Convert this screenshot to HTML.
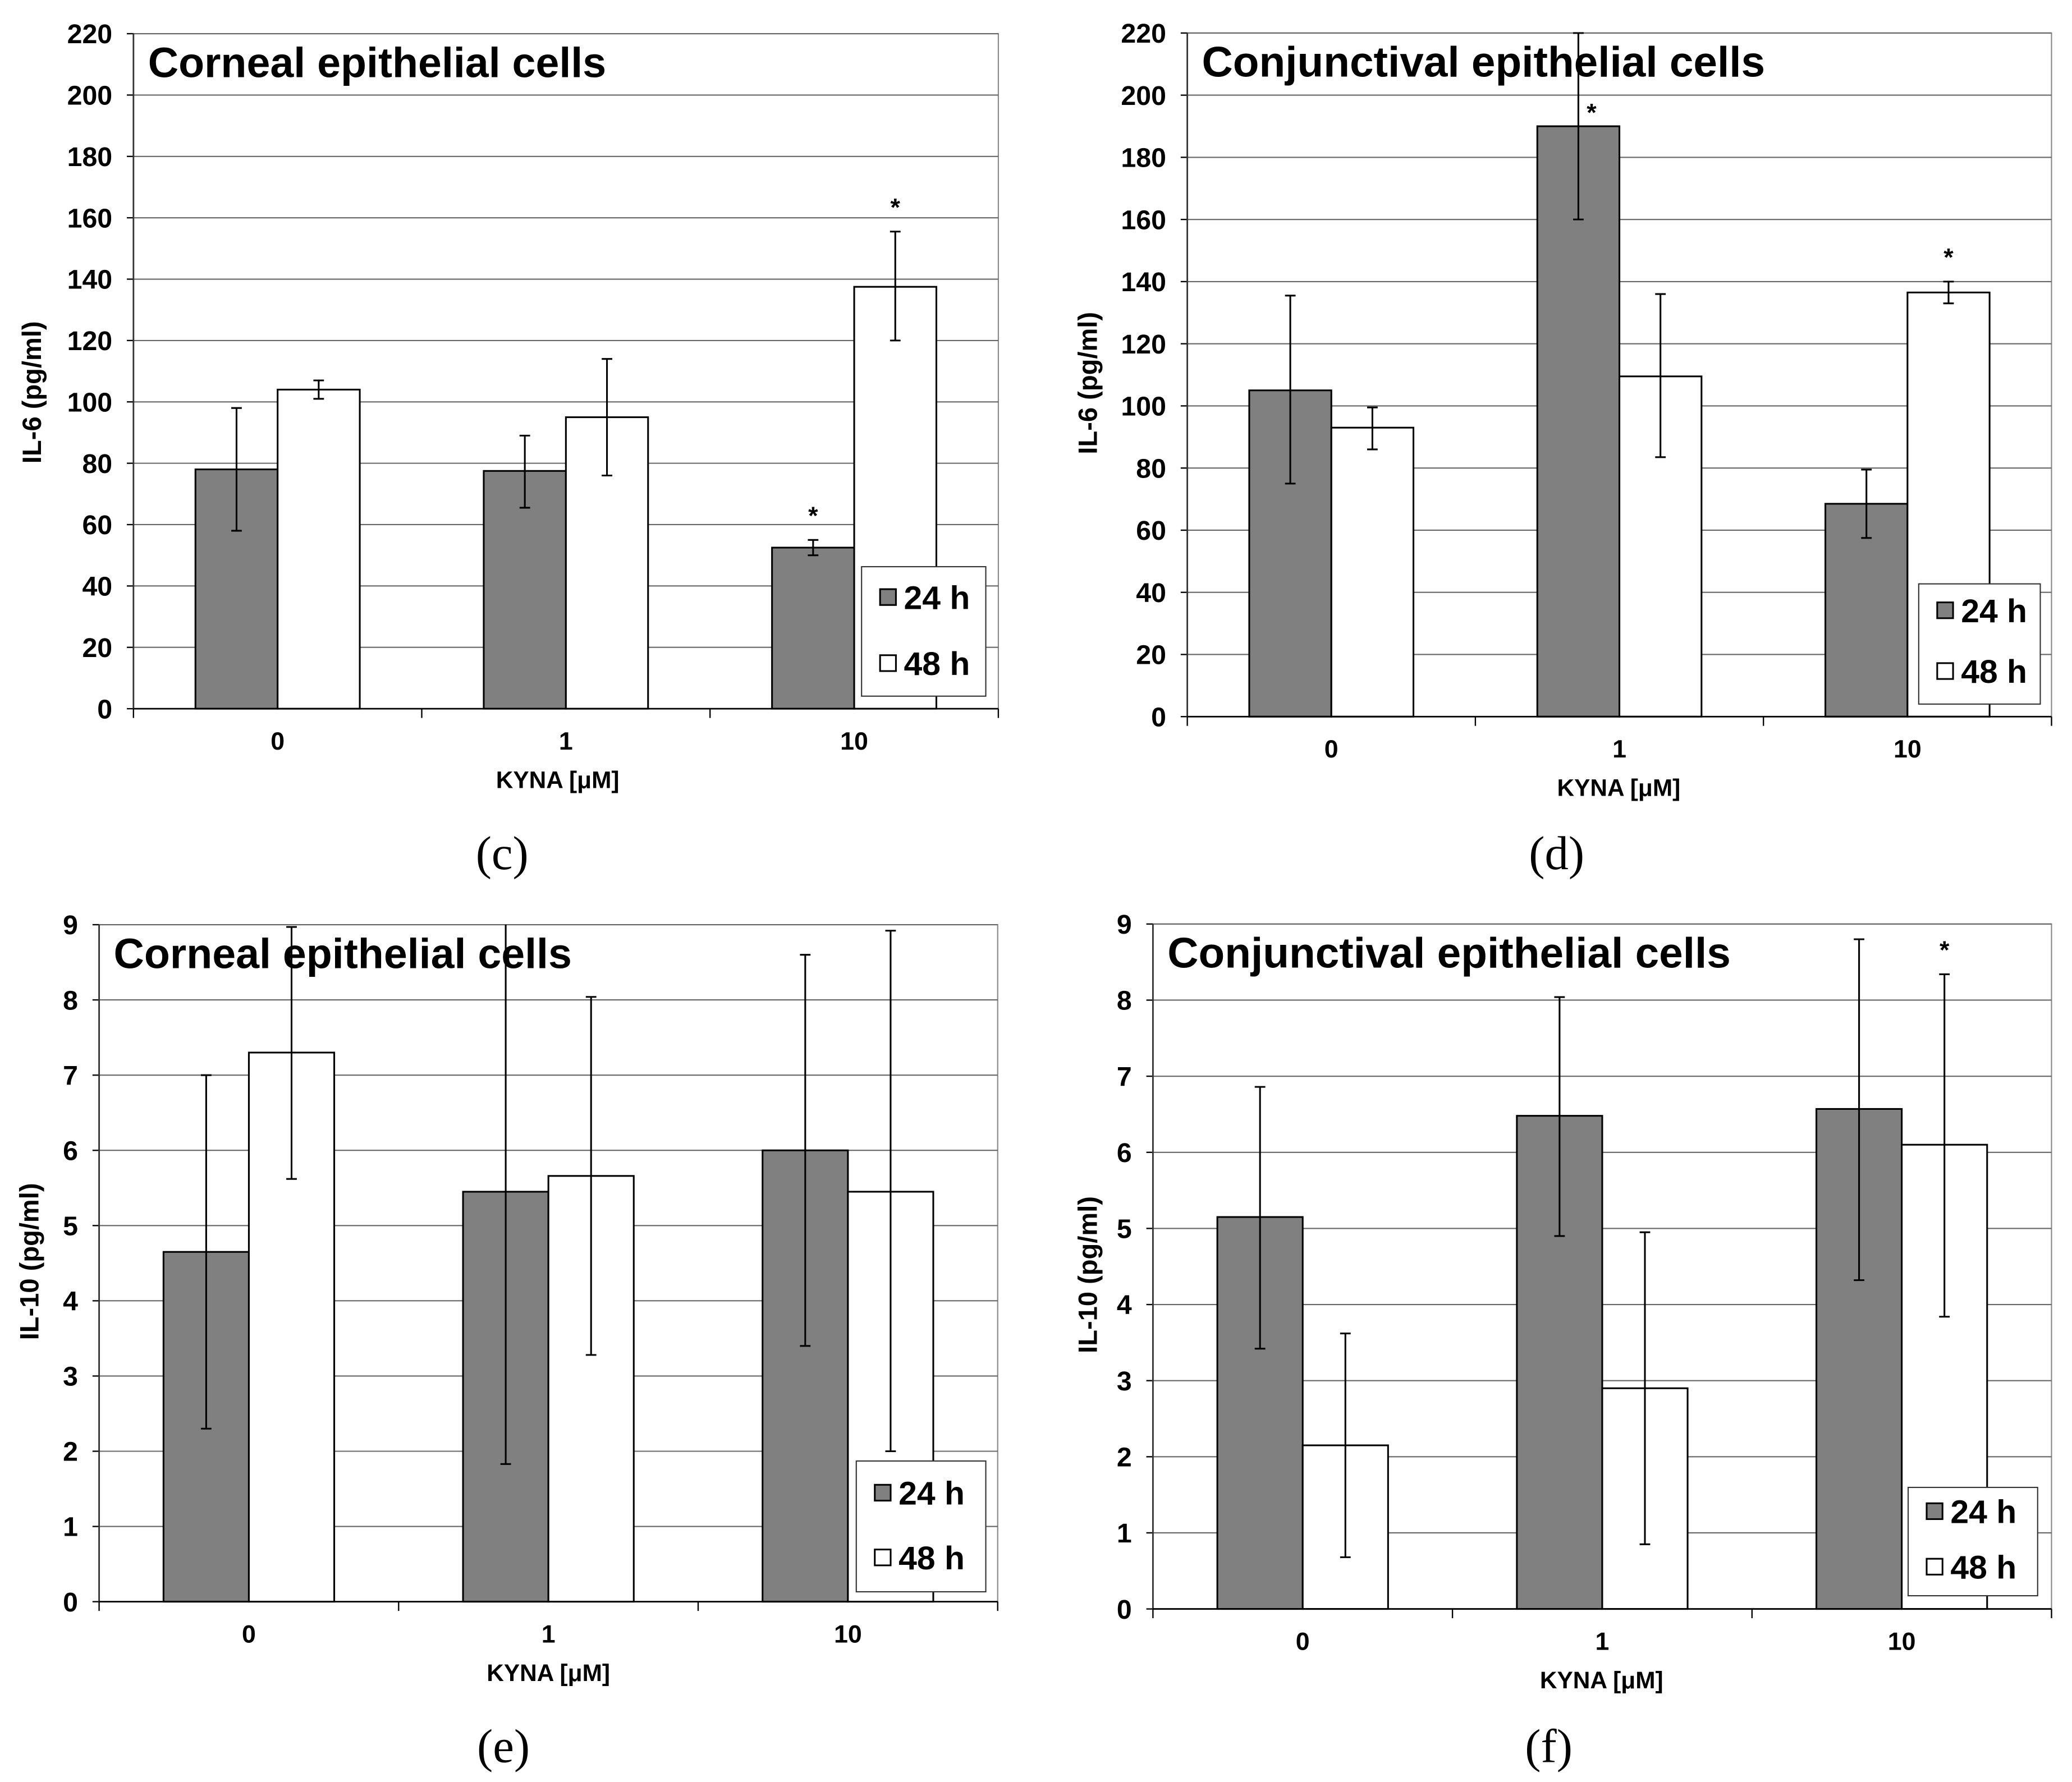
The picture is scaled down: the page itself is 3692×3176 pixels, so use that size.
<!DOCTYPE html>
<html><head><meta charset="utf-8"><style>
html,body{margin:0;padding:0;background:#fff}
svg{display:block}
text{font-family:"Liberation Sans",Arial,sans-serif;font-weight:bold;fill:#000}
.serif{font-family:"Liberation Serif",serif;font-weight:normal}
</style></head><body>
<svg id="fig" width="3692" height="3176" viewBox="0 0 1568 1349" preserveAspectRatio="none" xmlns="http://www.w3.org/2000/svg"></svg>
<script>
// ---- data ----
const categories = ["0", "1", "10"];
const seriesNames = ["24 h", "48 h"];
// panel c: IL-6 corneal
const cVals24 = [78, 77.5, 52.5];
const cLo24 = [58, 65.5, 50];
const cHi24 = [98, 89, 55];
const cVals48 = [104, 95, 137.5];
const cLo48 = [101, 76, 120];
const cHi48 = [107, 114, 155.5];
// panel d: IL-6 conjunctival
const dVals24 = [105, 190, 68.5];
const dLo24 = [75, 160, 57.5];
const dHi24 = [135.5, 220, 79.5];
const dVals48 = [93, 109.5, 136.5];
const dLo48 = [86, 83.5, 133];
const dHi48 = [99.5, 136, 140];
// panel e: IL-10 corneal
const eVals24 = [4.65, 5.45, 6.0];
const eLo24 = [2.3, 1.83, 3.4];
const eHi24 = [7.0, 9.08, 8.6];
const eVals48 = [7.3, 5.66, 5.45];
const eLo48 = [5.62, 3.28, 2.0];
const eHi48 = [8.97, 8.04, 8.92];
// panel f: IL-10 conjunctival
const fVals24 = [5.15, 6.48, 6.57];
const fLo24 = [3.42, 4.9, 4.32];
const fHi24 = [6.86, 8.04, 8.8];
const fVals48 = [2.15, 2.9, 6.1];
const fLo48 = [0.68, 0.85, 3.84];
const fHi48 = [3.62, 4.95, 8.34];
const il6Ticks = [0,20,40,60,80,100,120,140,160,180,200,220];
const il10Ticks = [0,1,2,3,4,5,6,7,8,9];
// significance stars: [series index, category index]
const cStars = [[0,2],[1,2]];
const dStars = [[0,1],[1,2]];
const eStars = [];
const fStars = [[1,2]];

const NS = "http://www.w3.org/2000/svg";
const svg = document.getElementById("fig");
function mk(tag, attrs, parent, txt){
  const e = document.createElementNS(NS, tag);
  for (const k in attrs) e.setAttribute(k, attrs[k]);
  if (txt !== undefined) e.textContent = txt;
  (parent||svg).appendChild(e);
  return e;
}

function panel(cfg){
  const g = mk("g", {});
  
  
  const L=cfg.L, R=cfg.R, T=cfg.T, B=cfg.B;
  const yMax = cfg.ticks[cfg.ticks.length-1];
  const y = v => B - (Math.min(v, yMax)/yMax)*(B-T);
  const gw = (R-L)/categories.length;
  const bw = gw*0.285;
  const xBar = (ci, si) => L + gw*ci + gw/2 + (si-1)*bw;
  const frame = mk("rect", {x:L, y:T, width:R-L, height:B-T, fill:"#fff", stroke:"#888", "stroke-width":0.9}, g);
  
  
  cfg.ticks.forEach(t=>{
    const gl = mk("line", {x1:L, x2:R, y1:y(t), y2:y(t), stroke:"#666", "stroke-width":0.9}, g);
    
    
    mk("line", {x1:L-5, x2:L, y1:y(t), y2:y(t), stroke:"#000", "stroke-width":1}, g);
    const tl = mk("text", {x:L-16, y:y(t)+7.3, "text-anchor":"end", "font-size":20.5}, g, String(t));
    
    
  });
  const vals = [cfg.v24, cfg.v48], lo=[cfg.lo24, cfg.lo48], hi=[cfg.hi24, cfg.hi48];
  const fills = ["#808080", "#ffffff"];
  for (let si=0; si<2; si++){
    categories.forEach((c, ci)=>{
      const x0 = xBar(ci, si);
      const r = mk("rect", {x:x0, y:y(vals[si][ci]), width:bw, height:B-y(vals[si][ci]), fill:fills[si], stroke:"#000", "stroke-width":1.3}, g);
      
      
    });
  }
  const lg = mk("g", {}, g);
  
  
  mk("rect", {x:cfg.leg[0], y:cfg.leg[1], width:cfg.leg[2], height:cfg.leg[3], fill:"#fff", stroke:"#333", "stroke-width":0.9}, lg);
  seriesNames.forEach((s, si)=>{
    const by = cfg.leg[1] + cfg.legB[si];
    const sq = mk("rect", {x:cfg.leg[0]+14, y:by-15, width:12, height:12, fill:fills[si], stroke:"#000", "stroke-width":1.3}, lg);
    
    
    const lt = mk("text", {x:cfg.leg[0]+32, y:by, "font-size":25}, lg, s);
    
    
  });
  for (let si=0; si<2; si++){
    categories.forEach((c, ci)=>{
      const cx = xBar(ci, si) + bw/2;
      const eb = mk("g", {stroke:"#000", "stroke-width":1.3}, g);
      
      
      const yh = y(hi[si][ci]), yl = y(lo[si][ci]);
      mk("line", {x1:cx, x2:cx, y1:yh, y2:yl}, eb);
      mk("line", {x1:cx-4, x2:cx+4, y1:yl, y2:yl}, eb);
      if (hi[si][ci] <= yMax) mk("line", {x1:cx-4, x2:cx+4, y1:yh, y2:yh}, eb);
    });
  }
  cfg.stars.forEach(([si, ci])=>{
    let cx = xBar(ci, si) + bw/2;
    let sy = y(hi[si][ci]) - 12;
    if (sy < T + 20) { sy = y(vals[si][ci]) - 4; cx += 10; }
    const st = mk("text", {x:cx, y:sy, "text-anchor":"middle", "font-size":19}, g, "*");
    
    
  });
  mk("line", {x1:L, x2:L, y1:T, y2:B, stroke:"#333", "stroke-width":1.2}, g);
  mk("line", {x1:L, x2:R, y1:B, y2:B, stroke:"#000", "stroke-width":1.2}, g);
  for (let i=0;i<=categories.length;i++){
    mk("line", {x1:L+gw*i, x2:L+gw*i, y1:B, y2:B+7, stroke:"#000", "stroke-width":1}, g);
  }
  categories.forEach((c, ci)=>{
    const xl = mk("text", {x:L+gw*ci+gw/2, y:B+31, "text-anchor":"middle", "font-size":19}, g, c);
    
    
  });
  const xt = mk("text", {x:cfg.xtX, y:B+60, "text-anchor":"middle", "font-size":18}, g, cfg.xTitle);
  
  
  const ycx = cfg.ylX, ycy = cfg.ylY;
  const yt = mk("text", {x:ycx, y:ycy, "text-anchor":"middle", "font-size":20, transform:`rotate(-90 ${ycx} ${ycy})`}, g, cfg.yTitle);
  
  
  const ti = mk("text", {x:L+11, y:T+33, "font-size":cfg.tfs}, g, cfg.title);
  
  
  const pl = mk("text", {x:cfg.plX, y:cfg.plY, "text-anchor":"middle", "font-size":36, "class":"serif"}, g, cfg.label);
  
  
}

panel({name:"panel-c", L:101, R:755.5, T:25.5, B:536.5, ticks:il6Ticks,
  v24:cVals24, lo24:cLo24, hi24:cHi24, v48:cVals48, lo48:cLo48, hi48:cHi48, stars:cStars,
  leg:[652,429,94,98], legB:[32,82], title:"Corneal epithelial cells", tfs:32, yTitle:"IL-6 (pg/ml)",
  xTitle:"KYNA [\u03bcM]", xtX:422, ylX:31, ylY:297, plX:380, plY:658, label:"(c)"});
panel({name:"panel-d", L:898.5, R:1552.5, T:25, B:542.5, ticks:il6Ticks,
  v24:dVals24, lo24:dLo24, hi24:dHi24, v48:dVals48, lo48:dLo48, hi48:dHi48, stars:dStars,
  leg:[1452,442,92,91], legB:[29,75], title:"Conjunctival epithelial cells", tfs:32.5, yTitle:"IL-6 (pg/ml)",
  xTitle:"KYNA  [\u03bcM]", xtX:1225, ylX:830, ylY:290, plX:1178, plY:658, label:"(d)"});
panel({name:"panel-e", L:75, R:755, T:700, B:1212.5, ticks:il10Ticks,
  v24:eVals24, lo24:eLo24, hi24:eHi24, v48:eVals48, lo48:eLo48, hi48:eHi48, stars:eStars,
  leg:[648,1106,98,99], legB:[33,82], title:"Corneal epithelial cells", tfs:32, yTitle:"IL-10 (pg/ml)",
  xTitle:"KYNA [\u03bcM]", xtX:415, ylX:29, ylY:955, plX:381, plY:1334, label:"(e)"});
panel({name:"panel-f", L:872.5, R:1552.5, T:699.5, B:1218, ticks:il10Ticks,
  v24:fVals24, lo24:fLo24, hi24:fHi24, v48:fVals48, lo48:fLo48, hi48:fHi48, stars:fStars,
  leg:[1444,1126,98,82], legB:[27,69], title:"Conjunctival epithelial cells", tfs:32.5, yTitle:"IL-10 (pg/ml)",
  xTitle:"KYNA [\u03bcM]", xtX:1212, ylX:830, ylY:965, plX:1172, plY:1334, label:"(f)"});
</script>
</body></html>
